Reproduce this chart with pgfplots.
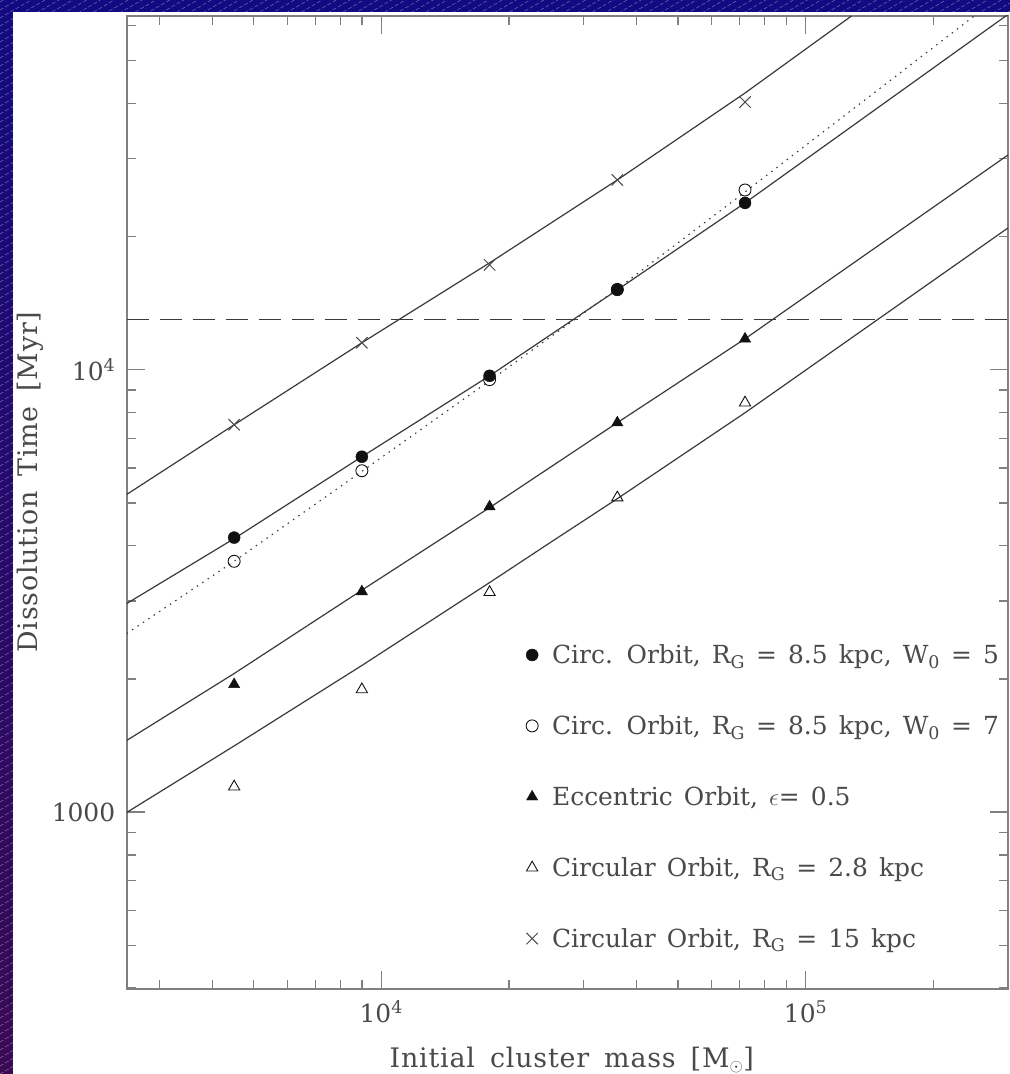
\documentclass[border=0pt]{standalone}
\usepackage{pgfplots}
\pgfplotsset{compat=1.18}
\usepackage{fontspec}
\setmainfont{DejaVu Serif}[WordSpace=1.4]
\newfontfamily\lblfont{DejaVu Serif}[WordSpace=1.6, LetterSpace=3]
\definecolor{txt}{HTML}{4A4A4A}
\definecolor{spine}{HTML}{808080}
\definecolor{ln}{HTML}{3A3A3A}
\definecolor{mk}{HTML}{111111}
\definecolor{bgtop}{HTML}{120A80}
\definecolor{bgmid}{HTML}{12139A}
\definecolor{bgbot}{HTML}{3A0A55}
\newcommand{\fs}{\fontsize{25}{30}\selectfont}
\newcommand{\fl}{\lblfont\fontsize{27}{32}\selectfont}
\begin{document}
\begin{tikzpicture}
\useasboundingbox (0bp,0bp) rectangle (1010bp,1074bp);
\shade[top color=bgtop, middle color=bgmid, bottom color=bgbot] (0bp,0bp) rectangle (1010bp,1074bp);
\begin{scope}
\clip (0bp,0bp) rectangle (1010bp,1074bp);
\foreach \i in {-600,-592,...,1080} {
  \draw[white, opacity=0.35, line width=0.6bp, dash pattern=on 4bp off 2bp] (0bp,\i bp) -- (1010bp,\i bp+583bp);
}
\end{scope}
\fill[white] (13bp,0bp) rectangle (1010bp,1062bp);
\begin{axis}[
  at={(126.7bp,85bp)}, anchor=south west,
  scale only axis, width=881.3bp, height=973bp,
  xmode=log, ymode=log,
  xmin=2512, xmax=300000, ymin=398.1, ymax=63096,
  axis line style={spine, line width=2bp},
  tick style={spine, line width=1.3bp},
  major tick length=18bp, minor tick length=9bp,
  tick align=inside,
  xtick={10000,100000}, xticklabels={10\textsuperscript{4},10\textsuperscript{5}},
  ytick={1000,10000}, yticklabels={1000,10\textsuperscript{4}},
  minor xtick={3000,4000,5000,6000,7000,8000,9000,20000,30000,40000,50000,60000,70000,80000,90000,200000},
  minor ytick={400,500,600,700,800,900,2000,3000,4000,5000,6000,7000,8000,9000,20000,30000,40000,50000,60000},
  ticklabel style={font=\fs, text=txt},
  xticklabel style={yshift=-8bp},
  yticklabel style={xshift=-8bp},
  label style={font=\fl, text=txt},
  xlabel={Initial cluster mass [M$_\odot$]},
  ylabel={Dissolution Time [Myr]},
  xlabel style={at={(axis description cs:0.505,-0.073)}, anchor=center},
  ylabel style={at={(axis description cs:-0.1097,0.521)}, anchor=center},
  legend style={at={(rel axis cs:0.453,0.356)}, anchor=north west, draw=none, fill=none,
    font=\fs, text=txt, row sep=46.5bp, inner sep=0pt,
    /tikz/every odd column/.append style={column sep=12bp}},
  legend cell align=left,
  legend image code/.code={\draw[#1] plot coordinates {(0cm,0cm)};},
]
% fitted lines
\addplot[ln, line width=1.2bp, forget plot] coordinates {(2512,5226) (4500,7511) (9000,11510) (18000,17450) (36000,26870) (72000,42250) (128300,63096)};
\addplot[ln, line width=1.2bp, forget plot] coordinates {(2512,2961) (4500,4152) (9000,6360) (18000,9692) (36000,15160) (72000,23840) (293900,62720) (300000,63500)};
\addplot[ln, line width=1.1bp, dash pattern=on 1.5bp off 5bp, forget plot] coordinates {(2512,2533) (4500,3690) (9000,5893) (18000,9445) (36000,15240) (72000,25240) (249800,63096)};
\addplot[ln, line width=1.2bp, forget plot] coordinates {(2512,1452) (4500,2057) (9000,3175) (18000,4879) (36000,7594) (72000,11750) (300000,30600)};
\addplot[ln, line width=1.2bp, forget plot] coordinates {(2512,998) (4500,1411) (9000,2145) (18000,3303) (25000,4066) (36000,5112) (72000,7996) (300000,20930)};
\addplot[ln, line width=1.2bp, dash pattern=on 22bp off 11bp, forget plot] coordinates {(2512,13000) (300000,13000)};
% data points
\addplot[only marks, mark=*, mark size=6bp, mk, mark options={fill=mk}] coordinates {(4500,4174) (9000,6360) (18000,9692) (36000,15160) (72000,23840)};
\addlegendentry{Circ. Orbit, R\textsubscript{G} = 8.5 kpc, W\textsubscript{0} = 5}
\addplot[only marks, mark=o, mark size=6bp, mk, mark options={fill=white, line width=0.9bp}] coordinates {(4500,3690) (9000,5913) (18000,9500) (36000,15200) (72000,25500)};
\addlegendentry{Circ. Orbit, R\textsubscript{G} = 8.5 kpc, W\textsubscript{0} = 7}
\addplot[only marks, mark=triangle*, mark size=6.5bp, mk, mark options={fill=mk}] coordinates {(4500,1944) (9000,3152) (18000,4903) (36000,7594) (72000,11750)};
\addlegendentry{Eccentric Orbit, $\epsilon$= 0.5}
\addplot[only marks, mark=triangle, mark size=6.5bp, mk, mark options={fill=white, line width=0.9bp}] coordinates {(4500,1141) (9000,1893) (18000,3140) (36000,5139) (72000,8425)};
\addlegendentry{Circular Orbit, R\textsubscript{G} = 2.8 kpc}
\addplot[only marks, mark=x, mark size=8bp, txt, mark options={line width=1bp}] coordinates {(4500,7511) (9000,11510) (18000,17270) (36000,26870) (72000,40310)};
\addlegendentry{Circular Orbit, R\textsubscript{G} = 15 kpc}
\end{axis}
\end{tikzpicture}
\end{document}
